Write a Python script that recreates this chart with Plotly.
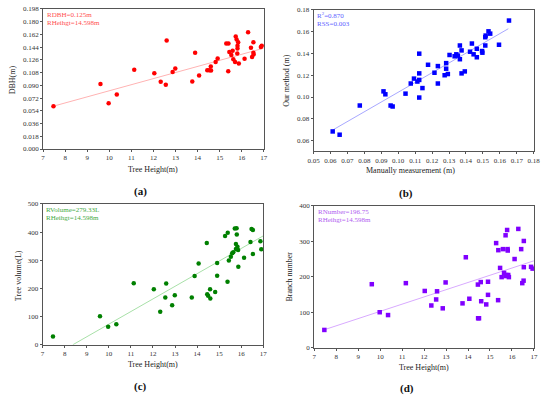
import plotly.graph_objects as go

# ---------------- data ----------------
# (a) Tree height vs DBH
a_height = [7.47, 9.6, 9.97, 10.34, 11.13, 12.04, 12.33, 12.56, 12.6, 12.87, 12.99, 13.76, 13.89,
            14.07, 14.44, 14.53, 14.61, 14.6, 14.82, 14.91, 15.3, 15.4, 15.39, 15.44, 15.53, 15.59,
            15.62, 15.7, 15.73, 15.77, 15.8, 15.81, 15.81, 15.84, 15.87, 16.13, 16.29, 16.42, 16.47,
            16.53, 16.53, 16.54, 16.87, 16.91]
a_dbh = [0.0606, 0.0918, 0.0648, 0.0769, 0.112, 0.1072, 0.095, 0.0908, 0.1533, 0.109, 0.1137, 0.0955, 0.136,
         0.1039, 0.1113, 0.1113, 0.111, 0.1165, 0.123, 0.128, 0.149, 0.149, 0.110, 0.137, 0.1328, 0.139,
         0.127, 0.123, 0.159, 0.1547, 0.135, 0.1458, 0.142, 0.151, 0.1207, 0.1277, 0.165, 0.143, 0.130,
         0.151, 0.136, 0.1337, 0.144, 0.1458]
a_fit = [-0.00357, 0.00859]          # intercept, slope
a_fit_x = [7.47, 17.0]

# (b) Manual measurement vs our method
b_manual = [0.0613, 0.0654, 0.0773, 0.0913, 0.0924, 0.0955, 0.0967, 0.1043, 0.1074, 0.1093, 0.1113,
            0.1124, 0.1124, 0.1124, 0.1124, 0.1143, 0.1176, 0.1214, 0.1234, 0.1234, 0.1274, 0.1283,
            0.1283, 0.1293, 0.1303, 0.1333, 0.1343, 0.1352, 0.1364, 0.1364, 0.1374, 0.1374, 0.1393,
            0.1424, 0.1435, 0.1445, 0.1464, 0.1464, 0.1495, 0.1497, 0.1514, 0.1514, 0.1516, 0.1533,
            0.1543, 0.1595, 0.1654]
b_ours = [0.0684, 0.0654, 0.0922, 0.1052, 0.1025, 0.0922, 0.0913, 0.1031, 0.1124, 0.1169, 0.1142,
          0.1217, 0.1398, 0.1157, 0.0995, 0.1082, 0.1296, 0.1223, 0.1284, 0.1124, 0.1200, 0.1311,
          0.1260, 0.1211, 0.1386, 0.1374, 0.1392, 0.1380, 0.1347, 0.1473, 0.1428, 0.1217, 0.1235,
          0.1416, 0.1491, 0.1392, 0.1443, 0.1365, 0.1422, 0.1407, 0.1473, 0.1549, 0.1564, 0.1603,
          0.1582, 0.1480, 0.1702]
b_fit = [0.0147, 0.897]
b_fit_x = [0.0615, 0.165]

# (c) Tree height vs volume
c_height = [7.47, 9.6, 9.97, 10.34, 11.13, 12.04, 12.33, 12.56, 12.6, 12.87, 12.99, 13.76, 13.89, 14.07,
            14.44, 14.46, 14.5, 14.59, 14.6, 14.82, 14.91, 14.91, 15.27, 15.39, 15.38, 15.44, 15.53,
            15.59, 15.64, 15.71, 15.76, 15.79, 15.76, 15.8, 15.83, 15.86, 15.87, 16.13, 16.42, 16.47,
            16.53, 16.53, 16.87, 16.91]
c_volume = [29, 101, 64, 73, 218, 197, 117, 168, 217, 140, 176, 168, 244, 288,
            361, 179, 174, 197, 164, 187, 290, 245, 386, 398, 224, 299, 312,
            325, 328, 413, 340, 414, 358, 391, 348, 336, 277, 309, 365, 411,
            407, 322, 367, 339]
c_fit = [-375.0, 44.8]
c_fit_x = [8.37, 17.0]

# (d) Tree height vs branch number
d_height = [7.46, 9.62, 9.98, 10.36, 11.17, 12.03, 12.33, 12.55, 12.59, 12.85, 12.98, 13.75, 13.9, 14.06,
            14.45, 14.46, 14.5, 14.58, 14.6, 14.83, 14.91, 14.91, 15.28, 15.37, 15.38, 15.46, 15.53,
            15.59, 15.64, 15.71, 15.74, 15.78, 15.71, 15.8, 15.81, 15.83, 15.86, 16.12, 16.29, 16.42,
            16.47, 16.54, 16.54, 16.53, 16.87, 16.94]
d_branch = [50, 179, 100, 92, 182, 160, 119, 136, 159, 111, 184, 125, 255, 138,
            178, 83, 83, 185, 131, 122, 149, 186, 295, 134, 275, 225, 199,
            278, 211, 317, 205, 332, 202, 278, 274, 205, 199, 250, 335, 278,
            182, 301, 227, 189, 228, 223]
d_fit = [-101.3, 20.37]
d_fit_x = [7.46, 17.0]

panel_labels = ["(a)", "(b)", "(c)", "(d)"]
x_titles = ["Tree Height(m)", "Manually measurement (m)", "Tree Height(m)", "Tree Height(m)"]
y_titles = ["DBH(m)", "Our method (m)", "Tree volume(L)", "Branch number"]
info_a = ["RDBH=0.125m", "RHeihgt=14.598m"]
info_b = ["R<sup>2</sup>=0.870", "RSS=0.003"]
info_c = ["RVolume=279.33L", "RHeihgt=14.598m"]
info_d = ["RNumber=196.75", "RHeihgt=14.598m"]

# ---------------- figure ----------------
W, H = 550, 399
FONT = "Liberation Serif, Times New Roman, serif"

def px_x(p):
    return p / W

def px_y(p):
    return 1 - p / H

# plot areas in pixels: left, right, top, bottom
boxes = [(38, 264, 5, 148), (315, 540.5, 6, 150.5), (37.5, 263.5, 204, 347.7), (315.7, 540.7, 206, 350.7)]

fig = go.Figure()

panels = [
    dict(x=a_height, y=a_dbh, fit=a_fit, fx=a_fit_x, mc="#ff0000", lc="#ffb3b3", sym="circle",
         tc="#ff5050", info=info_a),
    dict(x=b_manual, y=b_ours, fit=b_fit, fx=b_fit_x, mc="#0000ff", lc="#a8a8ff", sym="square",
         tc="#6060ff", info=info_b),
    dict(x=c_height, y=c_volume, fit=c_fit, fx=c_fit_x, mc="#008000", lc="#a8e0a8", sym="circle",
         tc="#44aa44", info=info_c),
    dict(x=d_height, y=d_branch, fit=d_fit, fx=d_fit_x, mc="#8000ff", lc="#d8aaff", sym="square",
         tc="#b060f0", info=info_d),
]

axis_ranges = [
    ([7, 17], 1, None, [0, 0.198], 0.018, ".3f"),
    ([0.05, 0.18], 0.01, ".2f", [0.05, 0.18], 0.02, ".2f"),
    ([7, 17], 1, None, [0, 500], 100, None),
    ([7, 17], 1, None, [0, 400], 100, None),
]
y_tick0 = [0, 0.06, 0, 0]

for i, p in enumerate(panels):
    xa = "x" if i == 0 else f"x{i+1}"
    ya = "y" if i == 0 else f"y{i+1}"
    fy = [p["fit"][0] + p["fit"][1] * v for v in p["fx"]]
    fig.add_trace(go.Scatter(x=p["fx"], y=fy, mode="lines", xaxis=xa, yaxis=ya,
                             line=dict(color=p["lc"], width=1), showlegend=False, hoverinfo="skip"))
    fig.add_trace(go.Scatter(x=p["x"], y=p["y"], mode="markers", xaxis=xa, yaxis=ya,
                             marker=dict(color=p["mc"], size=4.5, symbol=p["sym"], line=dict(width=0)),
                             showlegend=False, cliponaxis=False))

    l, r, t, b = boxes[i]
    xr, xd, xf, yr, yd, yf = axis_ranges[i]
    common = dict(showline=True, linecolor="#555555", linewidth=1, mirror=True, ticks="outside",
                  ticklen=2, tickwidth=1, tickcolor="#555555", showgrid=False, zeroline=False,
                  tickfont=dict(family=FONT, size=7, color="#333333"))
    xkey = "xaxis" if i == 0 else f"xaxis{i+1}"
    ykey = "yaxis" if i == 0 else f"yaxis{i+1}"
    xa_layout = dict(domain=[px_x(l), px_x(r)], anchor=ya, range=xr, dtick=xd, tick0=xr[0], **common)
    if xf:
        xa_layout["tickformat"] = xf
    ya_layout = dict(domain=[px_y(b), px_y(t)], anchor=xa, range=yr, dtick=yd, tick0=y_tick0[i], **common)
    if yf:
        ya_layout["tickformat"] = yf
    fig.update_layout(**{xkey: xa_layout, ykey: ya_layout})

    # info texts
    for k, txt in enumerate(p["info"]):
        fig.add_annotation(x=px_x(l + 1.5), y=px_y(t + 6 + k * 8.5), xref="paper", yref="paper",
                           text=txt, showarrow=False, xanchor="left", yanchor="middle",
                           font=dict(family=FONT, size=7, color=p["tc"]))

# axis titles and panel labels
x_title_pos = [(151, 169), (414, 170), (151, 368), (428, 371)]
y_title_pos = [(7, 77), (287, 78), (13, 277), (290, 278)]
label_pos = [(138, 191), (410, 193), (138, 390), (411, 392)]
for i in range(4):
    fig.add_annotation(x=px_x(x_title_pos[i][0]), y=px_y(x_title_pos[i][1]), xref="paper", yref="paper",
                       text=x_titles[i], showarrow=False, xanchor="center", yanchor="middle",
                       font=dict(family=FONT, size=8, color="#222222"))
    fig.add_annotation(x=px_x(y_title_pos[i][0]), y=px_y(y_title_pos[i][1]), xref="paper", yref="paper",
                       text=y_titles[i], showarrow=False, xanchor="center", yanchor="middle", textangle=-90,
                       font=dict(family=FONT, size=8, color="#222222"))
    fig.add_annotation(x=px_x(label_pos[i][0]), y=px_y(label_pos[i][1]), xref="paper", yref="paper",
                       text="<b>" + panel_labels[i] + "</b>", showarrow=False, xanchor="center", yanchor="middle",
                       font=dict(family=FONT, size=11, color="#111111"))

fig.update_layout(width=W, height=H, margin=dict(l=0, r=0, t=0, b=0),
                  paper_bgcolor="white", plot_bgcolor="white", showlegend=False)

fig.write_html("out.html", config={"displayModeBar": False},
               post_script="document.body.style.margin='0px';")
